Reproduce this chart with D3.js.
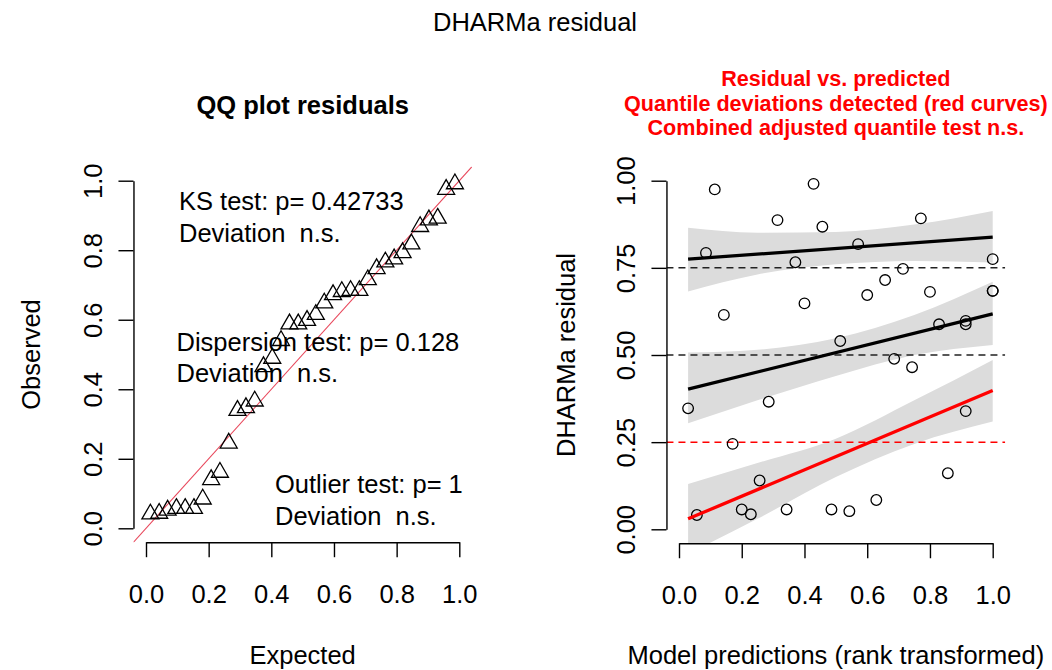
<!DOCTYPE html>
<html>
<head>
<meta charset="utf-8">
<script src="https://cdn.jsdelivr.net/npm/d3@7"></script>
<style>
  body { margin: 0; background: #fff; }
  svg text { font-family: "Liberation Sans", Arial, sans-serif; }
</style>
</head>
<body>
<svg id="chart" width="1052" height="670"></svg>
<script>
// ---- data ----
const qqExpected = [0.014, 0.042, 0.069, 0.097, 0.125, 0.153, 0.181, 0.208, 0.236, 0.264, 0.292, 0.319,
  0.347, 0.375, 0.403, 0.431, 0.458, 0.486, 0.514, 0.542, 0.569, 0.597, 0.625, 0.653,
  0.681, 0.708, 0.736, 0.764, 0.792, 0.819, 0.847, 0.875, 0.903, 0.931, 0.958, 0.986];
const qqObserved = [0.041, 0.043, 0.052, 0.057, 0.057, 0.057, 0.084, 0.140, 0.161, 0.245, 0.339, 0.347,
  0.366, 0.465, 0.489, 0.540, 0.588, 0.588, 0.598, 0.615, 0.648, 0.672, 0.681, 0.684,
  0.684, 0.715, 0.747, 0.766, 0.775, 0.793, 0.818, 0.868, 0.887, 0.892, 0.975, 0.991];

const predRank = [0.029, 0.057, 0.086, 0.114, 0.143, 0.171, 0.200, 0.229, 0.257, 0.286, 0.314, 0.343,
  0.371, 0.400, 0.429, 0.457, 0.486, 0.514, 0.543, 0.571, 0.600, 0.629, 0.657, 0.686,
  0.714, 0.743, 0.771, 0.800, 0.829, 0.857, 0.914, 0.914, 0.914, 1.000, 1.000, 1.000];
const residual = [0.347, 0.041, 0.793, 0.975, 0.615, 0.245, 0.057, 0.043, 0.140, 0.366, 0.887, 0.057,
  0.766, 0.648, 0.991, 0.868, 0.057, 0.540, 0.052, 0.818, 0.672, 0.084, 0.715, 0.489,
  0.747, 0.465, 0.892, 0.681, 0.588, 0.161, 0.598, 0.588, 0.339, 0.775, 0.684, 0.684];

const quantiles = [0.25, 0.5, 0.75];
const quantLineX = [0.029, 1.0];
const quantLine25 = [0.030, 0.398];
const quantLine50 = [0.402, 0.618];
const quantLine75 = [0.775, 0.838];

const bandX = [0.029, 0.25, 0.5, 0.75, 1.0];
const band25Lo = [-0.07, 0.03, 0.15, 0.245, 0.309];
const band25Hi = [0.13, 0.19, 0.26, 0.37, 0.486];
const band50Lo = [0.304, 0.37, 0.44, 0.50, 0.529];
const band50Hi = [0.507, 0.515, 0.548, 0.615, 0.710];
const band75Lo = [0.682, 0.731, 0.760, 0.770, 0.765];
const band75Hi = [0.865, 0.851, 0.853, 0.874, 0.913];

const qqTicks = [0, 0.2, 0.4, 0.6, 0.8, 1.0];
const resYTicks = [0, 0.25, 0.5, 0.75, 1.0];

const qqTests = [
  ["KS test: p= 0.42733", "Deviation  n.s."],
  ["Dispersion test: p= 0.128", "Deviation  n.s."],
  ["Outlier test: p= 1", "Deviation  n.s."]
];
const rightTitle = ["Residual vs. predicted", "Quantile deviations detected (red curves)",
  "Combined adjusted quantile test n.s."];

// ---- layout ----
const FS = 25.5;         // cex = 1
const TICK = 15;
const svg = d3.select("#chart");
svg.append("rect").attr("width", 1052).attr("height", 670).attr("fill", "#fff");

// overall title
svg.append("text")
  .attr("x", 535).attr("y", 31)
  .attr("text-anchor", "middle")
  .attr("font-size", FS)
  .text("DHARMa residual");

// shared axis helpers
function bottomAxis(x, yPos, ticks, fmt) {
  const g = svg.append("g")
    .attr("transform", `translate(0,${yPos})`)
    .call(d3.axisBottom(x).tickValues(ticks).tickFormat(fmt).tickSize(TICK).tickSizeOuter(0));
  g.select(".domain").attr("stroke-width", 1.4);
  g.selectAll(".tick line").attr("stroke-width", 1.4);
  g.selectAll(".tick text")
    .attr("y", 61).attr("dy", null)
    .attr("font-size", FS).attr("fill", "#000");
  return g;
}

function leftAxis(y, xPos, ticks, fmt) {
  const g = svg.append("g")
    .attr("transform", `translate(${xPos},0)`)
    .call(d3.axisLeft(y).tickValues(ticks).tickFormat(fmt).tickSize(TICK).tickSizeOuter(0));
  g.select(".domain").attr("stroke-width", 1.4);
  g.selectAll(".tick line").attr("stroke-width", 1.4);
  g.selectAll(".tick text")
    .attr("transform", "rotate(-90)")
    .attr("x", 0).attr("y", -31).attr("dy", null)
    .attr("text-anchor", "middle")
    .attr("font-size", FS).attr("fill", "#000");
  return g;
}

// ================= left panel: QQ plot =================
const xQ = d3.scaleLinear().domain([0, 1]).range([146, 459.3]);
const yQ = d3.scaleLinear().domain([0, 1]).range([528.3, 180.7]);
const qLeft = xQ(-0.04), qRight = xQ(1.04), qTop = yQ(1.04), qBottom = yQ(-0.04);

svg.append("clipPath").attr("id", "clipQ")
  .append("rect")
  .attr("x", qLeft).attr("y", qTop)
  .attr("width", qRight - qLeft).attr("height", qBottom - qTop);

// 1:1 reference line
svg.append("line")
  .attr("clip-path", "url(#clipQ)")
  .attr("x1", xQ(-0.1)).attr("y1", yQ(-0.1))
  .attr("x2", xQ(1.1)).attr("y2", yQ(1.1))
  .attr("stroke", "#e8485c").attr("stroke-width", 1.1);

// triangles
svg.append("g").selectAll("path")
  .data(qqExpected)
  .join("path")
  .attr("transform", (d, i) => `translate(${xQ(d)},${yQ(qqObserved[i])})`)
  .attr("d", d3.symbol(d3.symbolTriangle, 125))
  .attr("fill", "none")
  .attr("stroke", "#000")
  .attr("stroke-width", 1.3);

bottomAxis(xQ, qBottom, qqTicks, d3.format(".1f"));
leftAxis(yQ, qLeft, qqTicks, d3.format(".1f"));

svg.append("text")
  .attr("x", (qLeft + qRight) / 2).attr("y", 114)
  .attr("text-anchor", "middle")
  .attr("font-size", FS).attr("font-weight", "bold")
  .text("QQ plot residuals");

svg.append("text")
  .attr("x", (qLeft + qRight) / 2).attr("y", 664)
  .attr("text-anchor", "middle")
  .attr("font-size", FS)
  .text("Expected");

svg.append("text")
  .attr("transform", `translate(40,${(qTop + qBottom) / 2}) rotate(-90)`)
  .attr("text-anchor", "middle")
  .attr("font-size", FS)
  .text("Observed");

// test annotations (legend-like text blocks)
const testPos = [[179, 210], [176.5, 350.5], [275, 493]];
qqTests.forEach((lines, k) => {
  const t = svg.append("text")
    .attr("x", testPos[k][0]).attr("y", testPos[k][1])
    .attr("font-size", FS)
    .attr("xml:space", "preserve");
  lines.forEach((s, j) => {
    t.append("tspan")
      .attr("x", testPos[k][0])
      .attr("dy", j === 0 ? 0 : 31.5)
      .text(s);
  });
});

// ================= right panel: residual vs predicted =================
const xR = d3.scaleLinear().domain([0, 1]).range([679, 992.7]);
const yR = d3.scaleLinear().domain([0, 1]).range([529.3, 180.7]);
const rLeft = xR(-0.04), rRight = xR(1.04), rTop = yR(1.04), rBottom = yR(-0.04);

svg.append("clipPath").attr("id", "clipR")
  .append("rect")
  .attr("x", rLeft).attr("y", rTop)
  .attr("width", rRight - rLeft).attr("height", rBottom - rTop);

const plotR = svg.append("g").attr("clip-path", "url(#clipR)");

const bands = [
  { lo: band25Lo, hi: band25Hi },
  { lo: band50Lo, hi: band50Hi },
  { lo: band75Lo, hi: band75Hi }
];
const area = d3.area()
  .x(d => xR(d.x)).y0(d => yR(d.lo)).y1(d => yR(d.hi))
  .curve(d3.curveMonotoneX);

plotR.selectAll("path.band")
  .data(bands)
  .join("path")
  .attr("class", "band")
  .attr("d", b => area(bandX.map((x, i) => ({ x, lo: b.lo[i], hi: b.hi[i] }))))
  .attr("fill", "#dcdcdc");

// dashed reference lines at the tested quantiles
plotR.selectAll("line.ref")
  .data(quantiles)
  .join("line")
  .attr("class", "ref")
  .attr("x1", rLeft).attr("x2", rRight)
  .attr("y1", d => yR(d)).attr("y2", d => yR(d))
  .attr("stroke", d => d === 0.25 ? "#ff0000" : "#222")
  .attr("stroke-width", 1.5)
  .attr("stroke-dasharray", "7,5");

// points
plotR.append("g").selectAll("circle")
  .data(predRank)
  .join("circle")
  .attr("cx", d => xR(d))
  .attr("cy", (d, i) => yR(residual[i]))
  .attr("r", 5.3)
  .attr("fill", "none")
  .attr("stroke", "#000")
  .attr("stroke-width", 1.3);

// fitted quantile lines
const qLines = [
  { v: quantLine25, col: "#ff0000" },
  { v: quantLine50, col: "#000" },
  { v: quantLine75, col: "#000" }
];
const line = d3.line().x(d => xR(d[0])).y(d => yR(d[1]));
plotR.selectAll("path.qline")
  .data(qLines)
  .join("path")
  .attr("class", "qline")
  .attr("d", q => line(quantLineX.map((x, i) => [x, q.v[i]])))
  .attr("fill", "none")
  .attr("stroke", q => q.col)
  .attr("stroke-width", 3.3);

bottomAxis(xR, rBottom, qqTicks, d3.format(".1f"));
leftAxis(yR, rLeft, resYTicks, d3.format(".2f"));

svg.append("g").selectAll("text")
  .data(rightTitle)
  .join("text")
  .attr("x", (rLeft + rRight) / 2)
  .attr("y", (d, i) => 86 + i * 24.5)
  .attr("text-anchor", "middle")
  .attr("font-size", 21.6).attr("font-weight", "bold")
  .attr("fill", "#ff0000")
  .text(d => d);

svg.append("text")
  .attr("x", (rLeft + rRight) / 2).attr("y", 664)
  .attr("text-anchor", "middle")
  .attr("font-size", FS)
  .text("Model predictions (rank transformed)");

svg.append("text")
  .attr("transform", `translate(575,${(rTop + rBottom) / 2}) rotate(-90)`)
  .attr("text-anchor", "middle")
  .attr("font-size", FS)
  .text("DHARMa residual");
</script>
</body>
</html>
